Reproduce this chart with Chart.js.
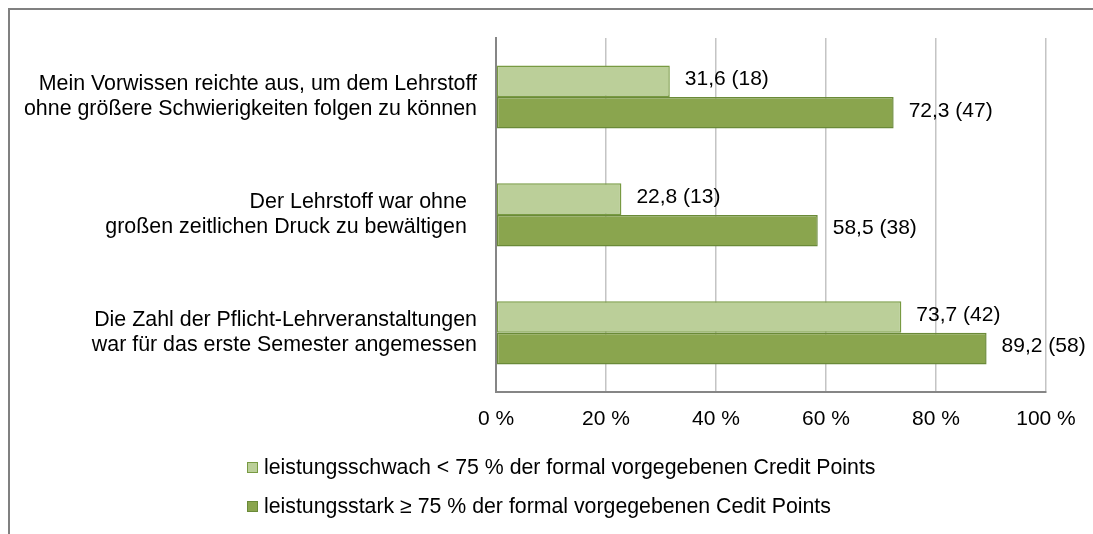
<!DOCTYPE html>
<html>
<head>
<meta charset="utf-8">
<script src="https://cdn.jsdelivr.net/npm/chart.js@4/dist/chart.umd.min.js"></script>
<style>
  html, body { margin: 0; padding: 0; background: #fff; overflow: hidden; }
  #wrap { position: relative; width: 1093px; height: 534px; overflow: hidden; }
  #frame { position: absolute; left: 8px; top: 8px; width: 1200px; height: 700px; border-left: 2px solid #808080; border-top: 2px solid #808080; box-sizing: border-box; }
  #c { position: absolute; left: 0; top: 0; }
  .leg { position: absolute; left: 247px; font-family: "Liberation Sans", Arial, sans-serif; font-size: 21.3px; color: #000; white-space: nowrap; line-height: 24px; }
  .leg span.box { display: inline-block; width: 9px; height: 9px; border: 1px solid #6E8B3D; margin-right: 6px; vertical-align: 1px; }
</style>
</head>
<body>
<div id="wrap">
  <div id="frame"></div>
  <canvas id="c" width="1093" height="534"></canvas>
  <div id="legend"></div>
</div>
<script>
const categories = [
  ["Mein Vorwissen reichte aus, um dem Lehrstoff", "ohne größere Schwierigkeiten folgen zu können"],
  ["Der Lehrstoff war ohne \u2009", "großen zeitlichen Druck zu bewältigen \u2009"],
  ["Die Zahl der Pflicht-Lehrveranstaltungen", "war für das erste Semester angemessen"]
];
const seriesNames = [
  "leistungsschwach < 75 % der formal vorgegebenen Credit Points",
  "leistungsstark ≥ 75 % der formal vorgegebenen Cedit Points"
];
const weakValues = [31.6, 22.8, 73.7];
const weakCounts = [18, 13, 42];
const strongValues = [72.3, 58.5, 89.2];
const strongCounts = [47, 38, 58];
const xTickValues = [0, 20, 40, 60, 80, 100];

const colors = ["#BBCF99", "#8AA54E"];
const borderColors = ["#789A42", "#6A8A38"];
const counts = [weakCounts, strongCounts];

const FONT = '"Liberation Sans", Arial, sans-serif';

const labelPlugin = {
  id: 'valueLabels',
  afterDatasetsDraw(chart) {
    const ctx = chart.ctx;
    ctx.save();
    ctx.font = '21px ' + FONT;
    ctx.fillStyle = '#000';
    ctx.textBaseline = 'middle';
    ctx.textAlign = 'left';
    chart.data.datasets.forEach((ds, di) => {
      const meta = chart.getDatasetMeta(di);
      meta.data.forEach((bar, i) => {
        const v = ds.data[i];
        const txt = v.toFixed(1).replace('.', ',') + ' (' + counts[di][i] + ')';
        ctx.fillText(txt, bar.x + 15, bar.y - 2);
      });
    });
    ctx.restore();
  }
};

new Chart(document.getElementById('c'), {
  type: 'bar',
  data: {
    labels: categories,
    datasets: [
      { label: seriesNames[0], data: weakValues, backgroundColor: colors[0], borderColor: borderColors[0], borderWidth: 1.5, borderSkipped: false },
      { label: seriesNames[1], data: strongValues, backgroundColor: colors[1], borderColor: borderColors[1], borderWidth: 1.5, borderSkipped: false }
    ]
  },
  options: {
    indexAxis: 'y',
    responsive: false,
    animation: false,
    categoryPercentage: 0.535,
    barPercentage: 1.0,
    layout: { padding: { left: 0, top: 38, right: 47, bottom: 87 } },
    plugins: { legend: { display: false }, tooltip: { enabled: false } },
    scales: {
      x: {
        min: 0, max: 100,
        afterBuildTicks(scale) { scale.ticks = xTickValues.map(v => ({ value: v })); },
        ticks: {
          callback: v => v + ' %',
          font: { family: FONT, size: 21 },
          color: '#000',
          padding: 15,
          maxRotation: 0
        },
        grid: { color: '#C4C4C4', lineWidth: 1.5, drawTicks: false },
        border: { color: '#868686', width: 2 }
      },
      y: {
        afterFit(scale) { scale.width = 496; scale.paddingTop = 0; scale.paddingBottom = 0; },
        ticks: {
          font: { family: FONT, size: 21.4, lineHeight: 1.17 },
          color: '#000',
          padding: 19
        },
        grid: { display: false, drawTicks: false },
        border: { color: '#868686', width: 2 }
      }
    }
  },
  plugins: [labelPlugin]
});

const legend = document.getElementById('legend');
const tops = [455, 494];
seriesNames.forEach((name, i) => {
  const d = document.createElement('div');
  d.className = 'leg';
  d.style.top = tops[i] + 'px';
  const b = document.createElement('span');
  b.className = 'box';
  b.style.background = colors[i];
  b.style.borderColor = borderColors[i];
  d.appendChild(b);
  d.appendChild(document.createTextNode(name));
  legend.appendChild(d);
});
</script>
</body>
</html>
